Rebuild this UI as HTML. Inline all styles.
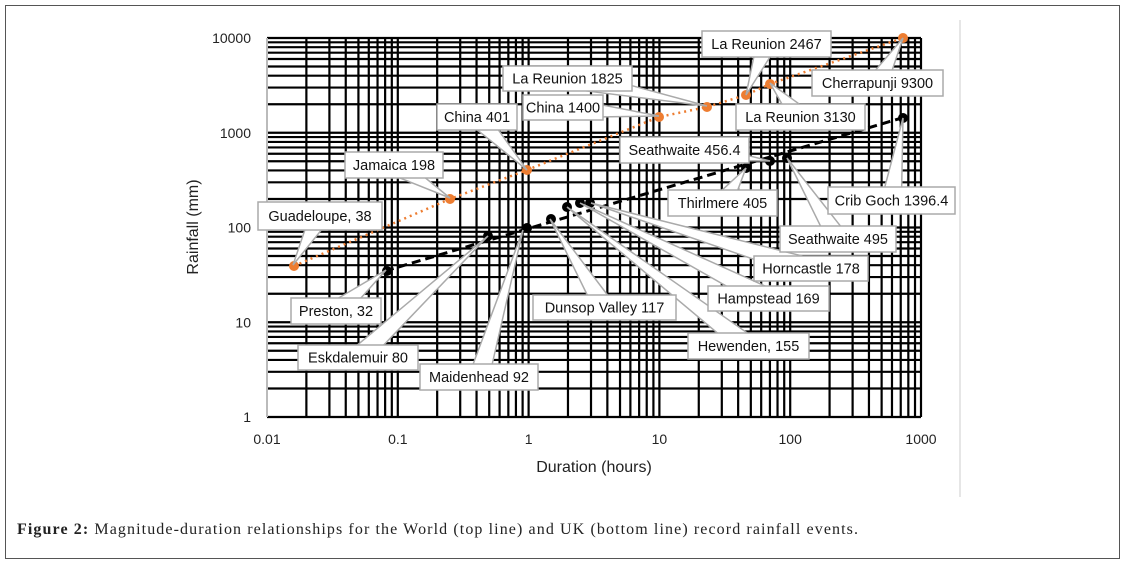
<!DOCTYPE html>
<html><head><meta charset="utf-8"><style>
body{margin:0;background:#fff;}
svg{display:block;font-family:"Liberation Sans",sans-serif;}
</style></head><body>
<svg id="s" width="1125" height="565" xmlns="http://www.w3.org/2000/svg">
<rect x="5.5" y="5.5" width="1114" height="553" fill="#fff" stroke="#555" stroke-width="1"/>
<line x1="960" y1="20" x2="960" y2="497" stroke="#ccc" stroke-width="1"/>
<g id="grid"></g>
<g id="ticks" font-size="14" fill="#222"></g>
<text x="594" y="472" font-size="16" text-anchor="middle" fill="#222">Duration (hours)</text>
<text transform="translate(198,227) rotate(-90)" font-size="16" text-anchor="middle" fill="#222">Rainfall (mm)</text>
<g id="series"></g>
<g id="labels" font-size="14.5" fill="#111"></g>
<text x="17" y="534" font-family="Liberation Serif,serif" font-size="16" fill="#222" textLength="841" lengthAdjust="spacing"><tspan font-weight="bold">Figure 2:</tspan> Magnitude-duration relationships for the World (top line) and UK (bottom line) record rainfall events.</text>
</svg>
<script>
const NS="http://www.w3.org/2000/svg";
function X(v){return 267+130.8*Math.log10(v/0.01);}
function Y(v){return 417-94.75*Math.log10(v);}
function el(p,t,a,txt){const e=document.createElementNS(NS,t);for(const k in a)e.setAttribute(k,a[k]);if(txt!==undefined)e.textContent=txt;document.getElementById(p).appendChild(e);return e;}
for(let d=0;d<4;d++)for(let k=1;k<10;k++){const y=Y(k*Math.pow(10,d));el('grid','line',{x1:267,x2:921,y1:y,y2:y,stroke:'#000','stroke-width':2.2});}
el('grid','line',{x1:267,x2:921,y1:Y(10000),y2:Y(10000),stroke:'#000','stroke-width':2.2});
for(let d=-2;d<3;d++)for(let k=1;k<10;k++){const x=X(k*Math.pow(10,d));if(k==1&&d==-2)continue;el('grid','line',{x1:x,x2:x,y1:38,y2:417,stroke:'#000','stroke-width':2.2});}
el('grid','line',{x1:X(1000),x2:X(1000),y1:38,y2:417,stroke:'#000','stroke-width':2.2});
el('grid','line',{x1:267,x2:267,y1:38,y2:417,stroke:'#bbb','stroke-width':2});
[1,10,100,1000,10000].forEach(v=>el('ticks','text',{x:251,y:Y(v)+5,'text-anchor':'end'},String(v)));
[['0.01',0.01],['0.1',0.1],['1',1],['10',10],['100',100],['1000',1000]].forEach(a=>el('ticks','text',{x:X(a[1]),y:444,'text-anchor':'middle'},a[0]));
const W=[[294,266],[450,199],[527,170],[659,117],[707,107],[746,95],[770,84],[903,38]];
el('series','polyline',{points:W.map(p=>p.join(',')).join(' '),fill:'none',stroke:'#ed7d31','stroke-width':2.5,'stroke-dasharray':'2 4'});
W.forEach(p=>el('series','circle',{cx:p[0],cy:p[1],r:5,fill:'#ed7d31'}));
el('series','line',{x1:385,y1:271,x2:905,y2:117,stroke:'#000','stroke-width':3,'stroke-dasharray':'9 5'});
const U=[[387,271],[488,236],[527,228],[551,219],[567,207],[580,203],[590,203],[746,168],[770,161],[787,158],[903,118]];
U.forEach(p=>el('series','circle',{cx:p[0],cy:p[1],r:5,fill:'#000'}));
const L=[
["Guadeloupe, 38",258,202,382,230,293,265],
["Jamaica 198",345,152,443,178,450,198],
["China 401",437,104,517,130,527,170],
["China 1400",523,95,603,120,659,116],
["La Reunion 1825",503,66,632,91,707,106],
["La Reunion 2467",702,31,831,57,746,95],
["La Reunion 3130",736,104,865,130,770,83],
["Cherrapunji 9300",812,70,943,96,903,38],
["Seathwaite 456.4",620,137,749,163,770,161],
["Thirlmere 405",668,190,777,216,746,168],
["Crib Goch 1396.4",828,187,955,214,903,118],
["Seathwaite 495",780,226,896,252,787,158],
["Horncastle 178",754,256,868,281,591,203],
["Hampstead 169",708,286,829,311,580,203],
["Dunsop Valley 117",533,295,676,320,550,219],
["Hewenden, 155",688,333,809,359,567,207],
["Preston, 32",291,298,381,324,386,270],
["Eskdalemuir 80",298,345,418,370,488,236],
["Maidenhead 92",420,364,538,390,523,230]];
L.forEach(l=>{const [t,x1,y1,x2,y2,px,py]=l;const cx=(x1+x2)/2,cy=(y1+y2)/2;
 const dx=px-cx,dy=py-cy,len=Math.hypot(dx,dy),nx=-dy/len*10,ny=dx/len*10;
 el('labels','polygon',{points:`${cx+nx},${cy+ny} ${px},${py} ${cx-nx},${cy-ny}`,fill:'#fff',stroke:'#aaa','stroke-width':1.5});});
L.forEach(l=>{const [t,x1,y1,x2,y2]=l;
 el('labels','rect',{x:x1,y:y1,width:x2-x1,height:y2-y1,fill:'#fff',stroke:'#aaa','stroke-width':1.5});
 el('labels','text',{x:(x1+x2)/2,y:(y1+y2)/2+5,'text-anchor':'middle'},t);});
</script>
</body></html>
